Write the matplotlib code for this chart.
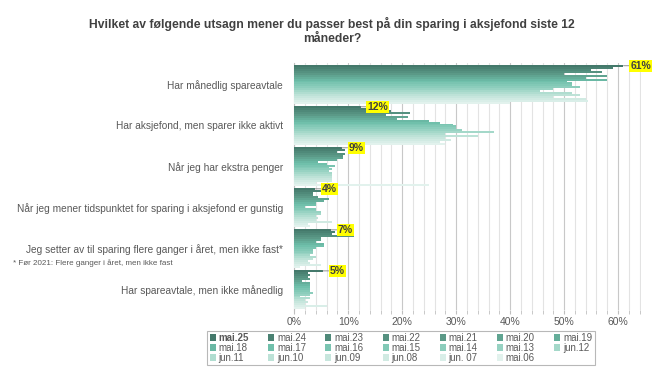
import matplotlib
matplotlib.use("Agg")
import matplotlib.pyplot as plt
import numpy as np
from matplotlib.colors import LinearSegmentedColormap

plt.rcParams['font.family'] = ['Liberation Sans', 'DejaVu Sans']

categories = [
    "Har månedlig spareavtale",
    "Har aksjefond, men sparer ikke aktivt",
    "Når jeg har ekstra penger",
    "Når jeg mener tidspunktet for sparing i aksjefond er gunstig",
    "Jeg setter av til sparing flere ganger i året, men ikke fast*",
    "Har spareavtale, men ikke månedlig",
]
series = ["mai.25", "mai.24", "mai.23", "mai.22", "mai.21", "mai.20", "mai.19",
          "mai.18", "mai.17", "mai.16", "mai.15", "mai.14", "mai.13", "jun.12",
          "jun.11", "jun.10", "jun.09", "jun.08", "jun. 07", "mai.06"]

# one list per category, values in % in series order (mai.25 ... mai.06)
manedlig = [61, 59, 55, 57, 50, 58, 54, 58, 50.5, 51.5, 51.5, 53, 48, 45.5, 51.5, 53, 48, 54, 54.5, 40]
ikke_aktivt = [12.3, 16, 18, 21.5, 17, 21, 19, 25, 27, 29.5, 30, 30, 31, 37, 28, 34, 28, 29, 27, 28]
ekstra = [8.8, 9.5, 8, 9.5, 9, 9, 8, 4.5, 6, 7.5, 6.5, 7, 6.5, 7, 7, 7, 7, 7, 4, 25]
gunstig = [3.9, 5, 3.5, 3.5, 4.5, 6.5, 5.5, 4, 4, 2, 4, 4, 5, 5, 4, 4.5, 4, 7, 2.5, 3]
flere_ganger = [6.8, 7.5, 7, 11, 5, 5, 4, 5.5, 5.5, 4, 3.5, 3.5, 3.5, 3, 4, 3.5, 2.5, 3, 5, 1]
ikke_manedlig = [5.3, 2.5, 3, 2.5, 3, 1.5, 3, 3, 3, 3, 3, 3.5, 3, 1, 3, 2, 2.5, 2, 6, 2]

values = np.array([manedlig, ikke_aktivt, ekstra, gunstig, flere_ganger, ikke_manedlig])

cmap = LinearSegmentedColormap.from_list(
    "grn", ["#44796b", "#5a9886", "#6dbea9", "#8fcfbe", "#bfe3d8", "#e2f2ed"])
colors = [cmap(i / (len(series) - 1)) for i in range(len(series))]

fig = plt.figure(figsize=(6.64, 3.67), dpi=100)
ax = fig.add_axes([0.443, 0.155, 0.522, 0.673])

n = len(series)
slot = 0.96 / n
y0 = np.arange(len(categories))
for i, s in enumerate(series):
    ypos = y0 - 0.48 + slot * (i + 0.5)
    ax.barh(ypos, values[:, i], height=slot, color=colors[i], label=s, zorder=3)

# highlighted labels for mai.25
for c in range(len(categories)):
    v = values[c, 0]
    ypos = y0[c] - 0.48 + slot * 0.5
    ax.annotate(f"{v:.0f}%", xy=(v, ypos), xytext=(5, 0), textcoords="offset points",
                ha="left", va="center", fontsize=7.5, fontweight="bold", color="#404040",
                bbox=dict(boxstyle="square,pad=0.1", fc="#ffff00", ec="none"),
                arrowprops=dict(arrowstyle="-", color="#7f7f7f", lw=0.6,
                                shrinkA=0, shrinkB=0),
                zorder=5)

ax.set_xlim(0, 64.2)
ax.set_ylim(len(categories) - 0.5, -0.52)
ax.set_xticks(np.arange(0, 61, 10))
ax.set_xticklabels([f"{t}%" for t in range(0, 61, 10)])
ax.set_xticks(np.arange(0, 65, 2), minor=True)
ax.set_axisbelow(True)
ax.grid(axis="x", which="major", color="#c8c8c8", lw=0.8)
ax.grid(axis="x", which="minor", color="#e3e3e3", lw=0.8)
ax.tick_params(axis="x", which="both", length=3, color="#bfbfbf", labelsize=7.5,
               labelcolor="#595959", pad=2)
ax.tick_params(axis="y", length=0, labelsize=7.3, labelcolor="#595959", pad=8)
ax.set_yticks(y0)
ax.set_yticklabels(categories)
for sp in ["top", "right", "bottom"]:
    ax.spines[sp].set_visible(False)
ax.spines["left"].set_color("#bfbfbf")

fig.text(13 / 664, 1 - 263 / 367, "* Før 2021: Flere ganger i året, men ikke fast",
         fontsize=5.8, color="#595959", va="center", ha="left")

fig.text(0.5, 1 - 31 / 367,
         "Hvilket av følgende utsagn mener du passer best på din sparing i aksjefond siste 12\nmåneder?",
         ha="center", va="center", fontsize=8.7, fontweight="bold", color="#404040",
         linespacing=1.25)

# legend laid out row by row
handles, labels = ax.get_legend_handles_labels()
ncol = 7
order = []
for c in range(ncol):
    for r in range(3):
        k = c + ncol * r
        if k < n:
            order.append(k)
leg = fig.legend([handles[k] for k in order], [labels[k] for k in order],
                 ncol=ncol, loc="center", bbox_to_anchor=(401 / 664, 1 - 348 / 367),
                 fontsize=7, frameon=True, fancybox=False, handlelength=0.6,
                 handleheight=0.6, handletextpad=0.3, columnspacing=2.0,
                 labelspacing=0.0, borderpad=0.25)
leg.get_frame().set_edgecolor("#a6a6a6")
leg.get_frame().set_linewidth(0.8)
for t in leg.get_texts():
    t.set_color("#595959")
    if t.get_text() == "mai.25":
        t.set_fontweight("bold")

fig.savefig("out.png", dpi=100)
